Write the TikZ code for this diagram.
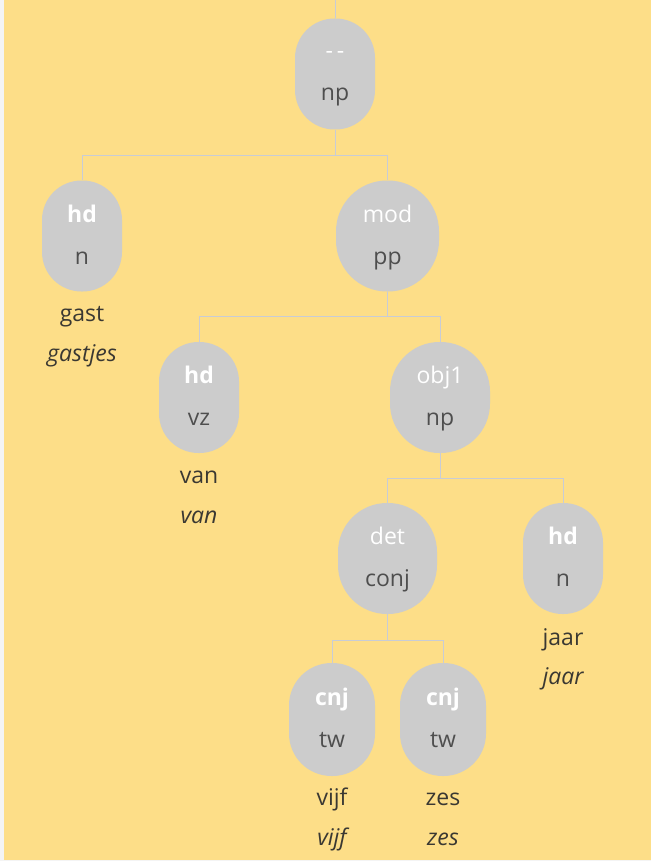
\documentclass[tikz,border=0pt]{standalone}
\usepackage{fontspec}
\setmainfont{Open Sans}
\usetikzlibrary{calc}
\definecolor{bgyellow}{RGB}{253,222,136}
\definecolor{stripgray}{RGB}{244,244,244}
\definecolor{nodegray}{RGB}{204,204,204}
\definecolor{edgegray}{RGB}{200,204,214}
\definecolor{catgray}{RGB}{78,78,78}
\definecolor{wordgray}{RGB}{58,56,50}
\begin{document}
\begin{tikzpicture}[x=1pt,y=-1pt,
  pill/.style={fill=nodegray,draw=none,inner sep=0pt,minimum height=111pt},
  rellab/.style={text=white,font=\fontsize{23}{25}\selectfont,inner sep=0pt,anchor=base},
  relbold/.style={rellab,font=\fontsize{23}{25}\selectfont\bfseries},
  catlab/.style={text=catgray,font=\fontsize{23}{25}\selectfont,inner sep=0pt,anchor=base},
  wordlab/.style={text=wordgray,font=\fontsize{23}{25}\selectfont,inner sep=0pt,anchor=base},
  wordit/.style={wordlab,font=\fontsize{23}{25}\selectfont\itshape},
  edge/.style={draw=edgegray,line width=1pt}]
\useasboundingbox (0,0) rectangle (651,861);
\fill[bgyellow] (0,0) rectangle (651,861);
\fill[stripgray] (0,0) rectangle (4,861);
\fill[stripgray] (0,860) rectangle (651,861);

% nodes
\node[pill,minimum width=80pt,rounded corners=39.5pt] (n0) at (335,74) {};
\node[pill,minimum width=80pt,rounded corners=39.5pt] (n1) at (82,236) {};
\node[pill,minimum width=103pt,rounded corners=51pt] (n2) at (387.5,236) {};
\node[pill,minimum width=80pt,rounded corners=39.5pt] (n3) at (199,397.5) {};
\node[pill,minimum width=100pt,rounded corners=49.5pt] (n4) at (440,397.5) {};
\node[pill,minimum width=99pt,rounded corners=49pt] (n5) at (387.5,558.5) {};
\node[pill,minimum width=80pt,rounded corners=39.5pt] (n6) at (563,558.5) {};
\node[pill,minimum width=86pt,minimum height=113pt,rounded corners=42.5pt] (n7) at (332,719.5) {};
\node[pill,minimum width=86pt,minimum height=113pt,rounded corners=42.5pt] (n8) at (443,719.5) {};

% labels inside nodes (baselines)
\node[rellab] (n0a) at ($(n0.north)+(0,40)$) {-\,-};
\node[catlab] (n0b) at ($(n0.north)+(0,82)$) {np};
\node[relbold] (n1a) at ($(n1.north)+(0,42)$) {hd};
\node[catlab] (n1b) at ($(n1.north)+(0,84)$) {n};
\node[rellab] (n2a) at ($(n2.north)+(0,42)$) {mod};
\node[catlab] (n2b) at ($(n2.north)+(0,84)$) {pp};
\node[relbold] (n3a) at ($(n3.north)+(0,42)$) {hd};
\node[catlab] (n3b) at ($(n3.north)+(0,84)$) {vz};
\node[rellab] (n4a) at ($(n4.north)+(0,42)$) {obj1};
\node[catlab] (n4b) at ($(n4.north)+(0,84)$) {np};
\node[rellab] (n5a) at ($(n5.north)+(0,42)$) {det};
\node[catlab] (n5b) at ($(n5.north)+(0,84)$) {conj};
\node[relbold] (n6a) at ($(n6.north)+(0,42)$) {hd};
\node[catlab] (n6b) at ($(n6.north)+(0,84)$) {n};
\node[relbold] (n7a) at ($(n7.north)+(0,43)$) {cnj};
\node[catlab] (n7b) at ($(n7.north)+(0,85)$) {tw};
\node[relbold] (n8a) at ($(n8.north)+(0,43)$) {cnj};
\node[catlab] (n8b) at ($(n8.north)+(0,85)$) {tw};

% words under leaves (baselines)
\node[wordlab] (w1a) at ($(n1.south)+(0,30)$) {gast};
\node[wordit] (w1b) at ($(n1.south)+(0,70)$) {gastjes};
\node[wordlab] (w3a) at ($(n3.south)+(0,30)$) {van};
\node[wordit] (w3b) at ($(n3.south)+(0,70)$) {van};
\node[wordlab] (w6a) at ($(n6.south)+(0,31)$) {jaar};
\node[wordit] (w6b) at ($(n6.south)+(0,70)$) {jaar};
\node[wordlab] (w7a) at ($(n7.south)+(0,29)$) {vijf};
\node[wordit] (w7b) at ($(n7.south)+(0,69)$) {vijf};
\node[wordlab] (w8a) at ($(n8.south)+(0,29)$) {zes};
\node[wordit] (w8b) at ($(n8.south)+(0,69)$) {zes};

% connectors
\coordinate (top) at (335,0);
\draw[edge] (top) -- (n0.north);
\draw[edge] (n0.south) -- ++(0,26) coordinate (m0);
\draw[edge] (n1.north) |- (m0) -| (n2.north);
\draw[edge] (n2.south) -- ++(0,25) coordinate (m2);
\draw[edge] (n3.north) |- (m2) -| (n4.north);
\draw[edge] (n4.south) -- ++(0,25) coordinate (m4);
\draw[edge] (n5.north) |- (m4) -| (n6.north);
\draw[edge] (n5.south) -- ++(0,26) coordinate (m5);
\draw[edge] (n7.north) |- (m5) -| (n8.north);
\end{tikzpicture}
\end{document}
